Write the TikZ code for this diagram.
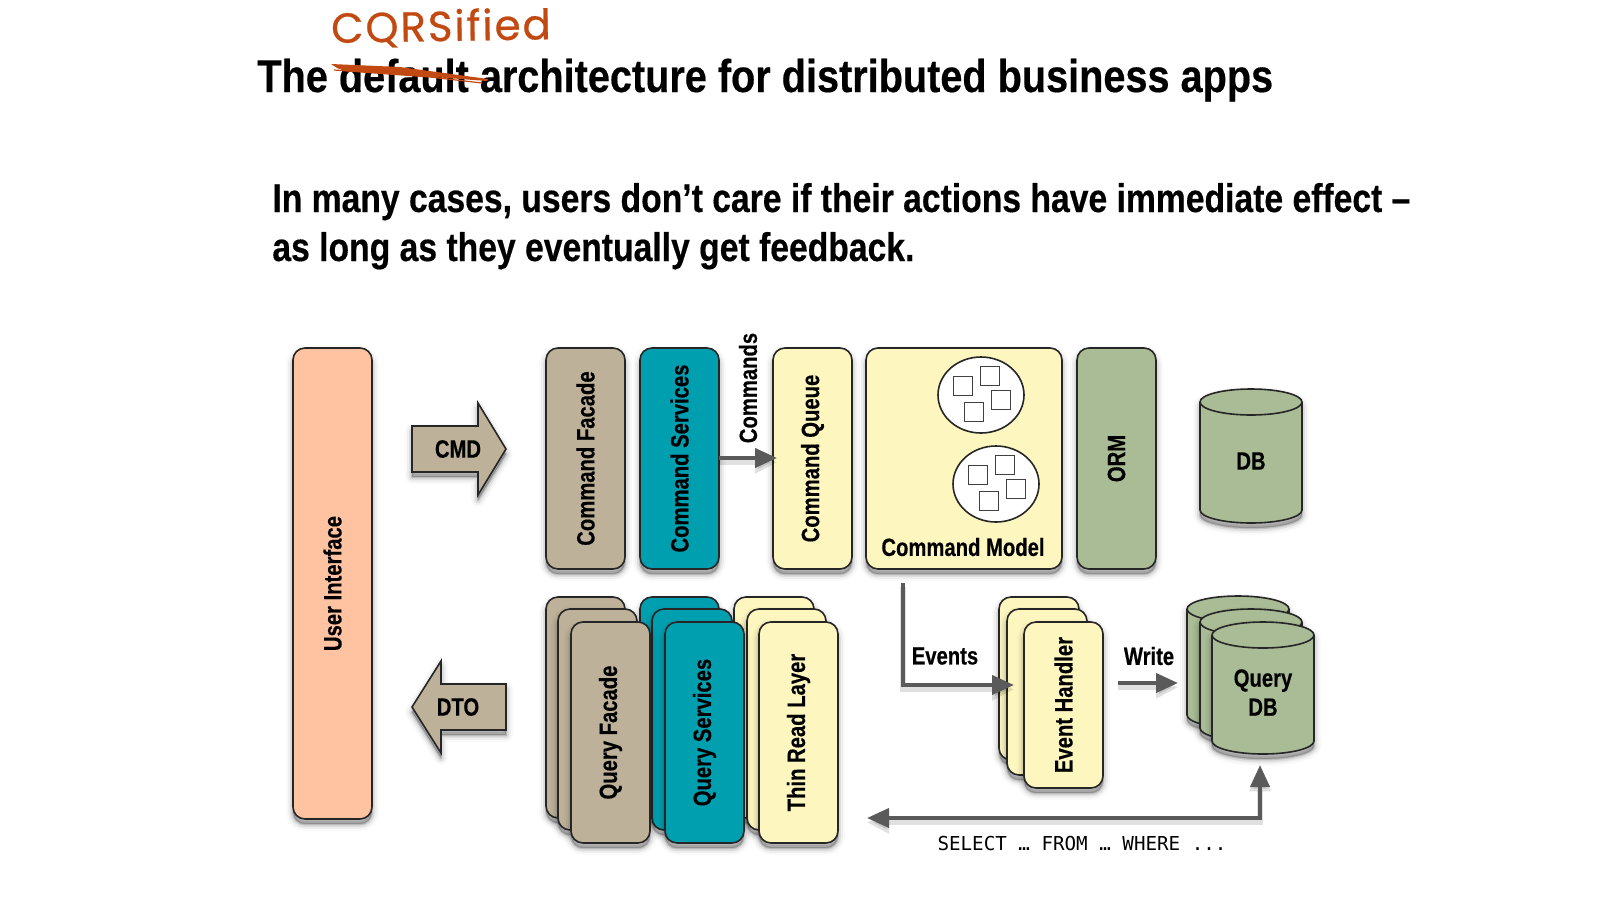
\documentclass[tikz,border=0pt]{standalone}
\usepackage{fontspec}
\setmainfont{Liberation Sans}
\newfontfamily\narrowbold[FakeStretch=0.81,FakeBold=0.4]{Liberation Sans Bold}
\newfontfamily\titlebold[FakeStretch=0.862,FakeBold=0.4]{Liberation Sans Bold}
\newfontfamily\bodybold[FakeStretch=0.842,FakeBold=0.4]{Liberation Sans Bold}
\newfontfamily\handfont[LetterSpace=4.5,FakeBold=0.6]{Poppins}
\newfontfamily\monofont{DejaVu Sans Mono}
\usetikzlibrary{shapes.geometric,shadows,arrows.meta}
\definecolor{peach}{HTML}{FFC3A2}
\definecolor{tan}{HTML}{BDB199}
\definecolor{teal}{HTML}{009FB0}
\definecolor{ylw}{HTML}{FEF6BF}
\definecolor{grn}{HTML}{A9BC95}
\definecolor{brush}{HTML}{C24A12}
\definecolor{flowgray}{HTML}{5A5A5A}
\tikzset{
  softshadow/.style={
    general shadow={fill=black,draw=black,line join=round,line width=7pt,opacity=.025,shadow yshift=-2.4pt},
    general shadow={fill=black,draw=black,line join=round,line width=5pt,opacity=.04,shadow yshift=-2.4pt},
    general shadow={fill=black,draw=black,line join=round,line width=3pt,opacity=.07,shadow yshift=-2.6pt},
    general shadow={fill=black,draw=black,line join=round,line width=1.2pt,opacity=.14,shadow yshift=-2.6pt}},
  lbl/.style={font=\narrowbold\fontsize{12.5}{14.5}\selectfont,text=black,inner sep=0pt,outer sep=0pt},
  panel/.style={lbl,draw=black!85,line width=.8pt,rounded corners=6pt,softshadow,outer sep=0pt,inner sep=0pt},
  dbbody/.style={fill=grn,draw=black!85,line width=.8pt,softshadow},
  dbrim/.style={draw=black!85,line width=.8pt},
  blockarrow/.style={draw=black!85,line width=.8pt,fill=tan,line join=miter,softshadow},
  aggregate/.style={ellipse,draw=black!85,fill=white,line width=.8pt,inner sep=0pt,outer sep=0pt,minimum width=43pt,minimum height=38pt},
  entity/.style={rectangle,draw=black!75,fill=white,line width=.6pt,inner sep=0pt,outer sep=0pt,minimum size=9.7pt},
  flow/.style={draw=flowgray,line width=2pt,-{Triangle[length=11pt,width=9.5pt]}},
  flowshade/.style={draw=black,opacity=.12,line width=3pt,-{Triangle[length=11pt,width=10.5pt]},transform canvas={yshift=-2.2pt}},
}
% \pnl{name}{x1}{y1}{x2}{y2}{fill}{text}
\newcommand\pnl[7]{\node[panel,fill=#6,minimum width={(#4-#2)*0.5pt},minimum height={(#5-#3)*0.5pt}] (#1) at ({(#2+#4)/2},{(#3+#5)/2}) {#7};}
\newcommand\vtext[1]{\rotatebox{90}{#1}}
\newcommand\flowline[1]{\draw[flowshade] #1; \draw[flow] #1;}
% \dbdrum{centre x}{top rim y}{bottom rim y}
\newcommand\dbdrum[3]{%
  \draw[dbbody] ({#1-51},#2) arc[start angle=180,end angle=0,x radius=25.5pt,y radius=6.5pt]
     -- ({#1+51},#3) arc[start angle=0,end angle=-180,x radius=25.5pt,y radius=6.5pt] -- cycle;
  \draw[dbrim] ({#1-51},#2) arc[start angle=180,end angle=360,x radius=25.5pt,y radius=6.5pt];}
\begin{document}
\begin{tikzpicture}[x=0.5pt,y=-0.5pt]
\useasboundingbox (0,0) rectangle (1600,900);
% headings
\node[anchor=base west,inner sep=0pt,font=\titlebold\fontsize{23}{27}\selectfont] (title) at (257,92)
  {The default architecture for distributed business apps};
\node[anchor=base west,inner sep=0pt,font=\bodybold\fontsize{20}{24}\selectfont] (line1) at (272,212)
  {In many cases, users don’t care if their actions have immediate effect –};
\node[anchor=base west,inner sep=0pt,font=\bodybold\fontsize{20}{24}\selectfont] (line2) at (272,261)
  {as long as they eventually get feedback.};
% handwriting
\node[anchor=base west,inner sep=0pt,text=brush,rotate=1,font=\handfont\fontsize{21}{24}\selectfont] (hand) at (331,43) {CQRSified};
\fill[brush] (331,64) -- (400,67) -- (488,79) -- (487,81) -- (420,76) -- (345,71) -- (337,68) -- cycle;
\draw[brush,line width=.6pt] (334,70) -- (430,77) -- (482,83);
% big panels
\pnl{ui}{293}{348}{372}{819}{peach}{\vtext{User Interface}}
\pnl{cf}{546}{348}{625}{569}{tan}{\vtext{Command Facade}}
\pnl{cs}{640}{348}{719}{569}{teal}{\vtext{Command Services}}
\pnl{cq}{773}{348}{852}{569}{ylw}{\vtext{Command Queue}}
\pnl{cm}{866}{348}{1062}{569}{ylw}{}
\pnl{orm}{1077}{348}{1156}{569}{grn}{\vtext{ORM}}
\node[lbl] (cmlabel) at (963,547) {Command Model};
% aggregates
\node[aggregate] (ag1) at (981,395) {};
\node[aggregate] (ag2) at (996,484) {};
\node[entity] (e1a) at (963,386) {};
\node[entity] (e1b) at (990,376) {};
\node[entity] (e1c) at (1001,400) {};
\node[entity] (e1d) at (974,412) {};
\node[entity] (e2a) at (978,475) {};
\node[entity] (e2b) at (1005,465) {};
\node[entity] (e2c) at (1016,489) {};
\node[entity] (e2d) at (989,501) {};
% db
\dbdrum{1251}{402}{510}
\node[lbl] (db) at (1251,461) {DB};
% block arrows
\draw[blockarrow] (412,426) -- (478,426) -- (478,403) -- (506,449) -- (478,495) -- (478,472) -- (412,472) -- cycle;
\node[lbl] (cmd) at (458,449) {CMD};
\draw[blockarrow] (506,684) -- (441,684) -- (441,661) -- (412,707) -- (441,753) -- (441,730) -- (506,730) -- cycle;
\node[lbl] (dto) at (458,707) {DTO};
% query stacks (right-hand stacks lie beneath the ones to their left)
\pnl{tr1}{734}{597}{814}{818}{ylw}{}
\pnl{tr2}{747}{609}{826}{830}{ylw}{}
\pnl{tr3}{759}{622}{838}{843}{ylw}{\vtext{Thin Read Layer}}
\pnl{qs1}{640}{597}{719}{818}{teal}{}
\pnl{qs2}{652}{609}{732}{830}{teal}{}
\pnl{qs3}{665}{622}{744}{843}{teal}{\vtext{Query Services}}
\pnl{qf1}{546}{597}{625}{818}{tan}{}
\pnl{qf2}{558}{609}{637}{830}{tan}{}
\pnl{qf3}{571}{622}{650}{843}{tan}{\vtext{Query Facade}}
% event handler
\pnl{eh1}{999}{597}{1079}{760}{ylw}{}
\pnl{eh2}{1007}{609}{1087}{775}{ylw}{}
\pnl{eh3}{1024}{622}{1103}{788}{ylw}{\vtext{Event Handler}}
% query db
\dbdrum{1238}{609}{715}
\dbdrum{1251}{622}{728}
\dbdrum{1263}{635}{741}
\node[lbl,align=center] (qdb) at (1263,692.5) {Query\\DB};
% connectors
\coordinate (cmdstart) at (cs.east |- 0,458);
\coordinate (cmdtip) at (777,458);
\coordinate (evstart) at (903,583);
\coordinate (evcorner) at (903,685);
\coordinate (evtip) at (1014,685);
\coordinate (wrstart) at (1118,683);
\coordinate (wrtip) at (1178,683);
\coordinate (seltop) at (1260,765);
\coordinate (selcorner) at (1260,818);
\coordinate (seltip) at (867,818);
\flowline{(cmdstart) -- (cmdtip)}
\flowline{(evstart) -- (evcorner) -- (evtip)}
\flowline{(wrstart) -- (wrtip)}
\draw[flowshade,{Triangle[length=11pt,width=10.5pt]}-{Triangle[length=11pt,width=10.5pt]}] (seltop) -- (selcorner) -- (seltip);
\draw[flow,{Triangle[length=11pt,width=9.5pt]}-{Triangle[length=11pt,width=9.5pt]}] (seltop) -- (selcorner) -- (seltip);
% free labels
\node[lbl] (commands) at (748,388) {\vtext{Commands}};
\node[lbl] (events) at (945,656) {Events};
\node[lbl] (write) at (1149,656) {Write};
\node[inner sep=0pt,font=\monofont\fontsize{9.6}{12}\selectfont] (sel) at (1082,843) {SELECT … FROM … WHERE ...};
\end{tikzpicture}
\end{document}
